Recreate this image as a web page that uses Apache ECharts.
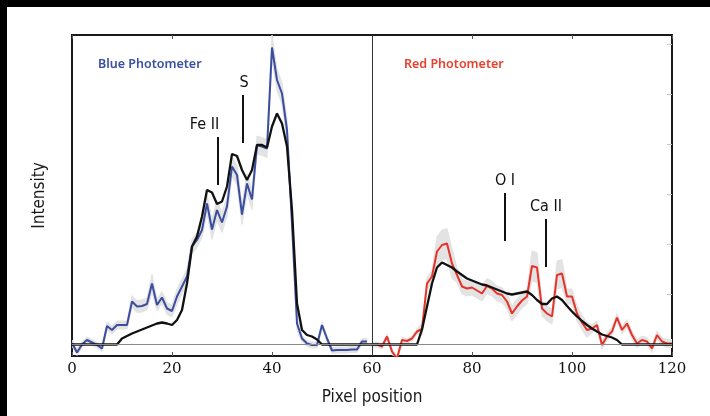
<!DOCTYPE html>
<html>
<head>
<meta charset="utf-8">
<script src="https://cdn.jsdelivr.net/npm/echarts@6/dist/echarts.min.js"></script>
<style>
  html, body { margin: 0; padding: 0; background: #fff; }
  #chart { width: 710px; height: 416px; }
</style>
</head>
<body>
<div id="chart"></div>
<script>
// Blue photometer: pixel 0..59, observed counts, model and uncertainty half-width
const bluePix = [0,1,2,3,4,5,6,7,8,9,10,11,12,13,14,15,16,17,18,19,20,21,22,23,24,25,26,27,28,29,30,31,32,33,34,35,36,37,38,39,40,41,42,43,44,45,46,47,48,49,50,51,52,53,54,55,56,57,58,59];
const blueObs = [0.03,-0.16,0.0,0.09,0.04,-0.01,-0.08,0.37,0.29,0.39,0.39,0.39,0.86,0.76,0.77,0.81,1.22,0.79,0.94,0.72,0.67,0.96,1.16,1.36,1.96,2.09,2.29,2.82,2.30,2.69,2.44,2.76,3.56,3.39,2.60,3.22,2.90,3.99,3.96,3.92,5.94,5.29,5.02,4.29,2.42,0.42,0.12,0.02,-0.01,-0.01,0.39,0.12,-0.12,-0.11,-0.11,-0.11,-0.10,-0.10,0.06,0.06];
const blueErr = [0.06,0.06,0.06,0.06,0.06,0.06,0.06,0.08,0.08,0.08,0.08,0.08,0.12,0.12,0.12,0.12,0.18,0.12,0.12,0.12,0.12,0.15,0.15,0.15,0.15,0.15,0.15,0.2,0.2,0.2,0.2,0.2,0.2,0.2,0.2,0.2,0.2,0.18,0.18,0.18,0.25,0.22,0.22,0.22,0.15,0.15,0.06,0.06,0.06,0.06,0.06,0.06,0.06,0.06,0.06,0.06,0.06,0.06,0.06,0.06];
const blueModelPix = [0,1,2,3,4,5,6,7,8,9,10,11,12,13,14,15,16,17,18,19,20,21,22,23,24,25,26,27,28,29,30,31,32,33,34,35,36,37,38,39,40,41,42,43,44,45,46,47,48,49,50,51,52,53,54,55,56,57,58,59,60];
const blueModel = [0,0,0,0,0,0,0,0,0,0,0.12,0.17,0.22,0.26,0.30,0.34,0.38,0.42,0.44,0.42,0.39,0.49,0.69,1.22,1.96,2.16,2.56,3.09,3.04,2.81,2.86,3.16,3.81,3.77,3.49,3.29,3.49,3.99,3.99,3.94,4.36,4.62,4.42,3.96,2.69,0.82,0.29,0.19,0.16,0.10,0,0,0,0,0,0,0,0,0,0,0];

// Red photometer: pixel 60..120
const redPix = [60,61,62,63,64,65,66,67,68,69,70,71,72,73,74,75,76,77,78,79,80,81,82,83,84,85,86,87,88,89,90,91,92,93,94,95,96,97,98,99,100,101,102,103,104,105,106,107,108,109,110,111,112,113,114,115,116,117,118,119,120];
const redObs = [0.0,0.0,-0.04,0.16,-0.14,-0.28,0.09,0.07,0.12,0.26,0.31,1.22,1.36,1.86,1.99,2.02,1.62,1.39,1.16,1.12,1.14,1.08,1.02,1.17,1.12,1.02,0.99,0.86,0.62,0.76,0.88,0.96,1.57,1.54,0.72,0.62,0.56,1.39,1.42,0.96,0.96,0.62,0.44,0.29,0.32,0.39,-0.01,0.16,0.26,0.54,0.29,0.42,0.19,0.02,0.09,0.06,-0.08,0.19,0.06,0.02,0.02];
const redErr = [0.05,0.05,0.05,0.05,0.05,0.05,0.05,0.05,0.05,0.05,0.12,0.12,0.12,0.3,0.3,0.3,0.3,0.15,0.15,0.15,0.15,0.15,0.15,0.15,0.15,0.15,0.15,0.15,0.15,0.15,0.15,0.15,0.3,0.3,0.15,0.15,0.15,0.28,0.28,0.15,0.15,0.15,0.15,0.15,0.08,0.08,0.08,0.08,0.08,0.08,0.08,0.08,0.08,0.08,0.08,0.08,0.08,0.08,0.08,0.08,0.08];
const redModel = [0,0,0,0,0,0,0,0,0,0,0.3,0.76,1.22,1.54,1.64,1.59,1.54,1.46,1.39,1.32,1.28,1.24,1.20,1.18,1.14,1.10,1.06,1.02,1.00,1.02,1.04,1.06,0.99,0.89,0.81,0.81,0.92,0.96,0.89,0.77,0.66,0.56,0.47,0.39,0.32,0.26,0.20,0.17,0.14,0.09,0,0,0,0,0,0,0,0,0,0,0];

// Emission line markers: label, pixel, bottom and top of the tick, label nudge
const lineNames = ['Fe II', 'S', 'O I', 'Ca II'];
const linePix = [29.1, 34.2, 86.6, 94.8];
const lineLow = [3.19, 4.03, 2.07, 1.55];
const lineHigh = [4.15, 4.99, 3.03, 2.51];
const lineLabelShift = [-13, 1, 0, 0];

const xTicks = [0, 20, 40, 60, 80, 100, 120];
const yTicks = [0, 1, 2, 3, 4, 5, 6];
const panelSplit = 60;

const narrow = "'Liberation Sans Narrow', 'DejaVu Sans Condensed', sans-serif";
const pairs = (xs, ys) => xs.map((x, i) => [x, ys[i]]);
const bandRows = (xs, ys, es) => xs.map((x, i) => [x, ys[i] - es[i], ys[i] + es[i]]);

// Uncertainty envelope drawn as one polygon through the axis scales
function band(name, xs, ys, es) {
  const rows = bandRows(xs, ys, es);
  return {
    name: name, type: 'custom', data: rows, silent: true, z: 1, clip: true,
    encode: { x: 0, y: [1, 2] },
    renderItem: function (params, api) {
      if (params.dataIndex !== 0) return null;
      const top = rows.map(r => api.coord([r[0], r[2]]));
      const bottom = rows.map(r => api.coord([r[0], r[1]])).reverse();
      return {
        type: 'polygon',
        shape: { points: top.concat(bottom) },
        style: { fill: '#e3e3e3', stroke: '#e3e3e3', lineWidth: 1 }
      };
    }
  };
}

const chart = echarts.init(document.getElementById('chart'), null, { renderer: 'canvas' });

const option = {
  animation: false,
  backgroundColor: '#ffffff',
  graphic: [
    { type: 'rect', shape: { x: 0, y: 0, width: 710, height: 7 }, style: { fill: '#000' }, z: 100 },
    { type: 'rect', shape: { x: 0, y: 0, width: 7, height: 416 }, style: { fill: '#000' }, z: 100 }
  ],
  title: [
    { text: 'Blue Photometer', left: 98, top: 58, padding: 0,
      textStyle: { color: '#3b50a2', fontSize: 12.5, fontWeight: 600, fontFamily: 'Noto Sans' } },
    { text: 'Red Photometer', left: 404, top: 58, padding: 0,
      textStyle: { color: '#e8402c', fontSize: 12.5, fontWeight: 600, fontFamily: 'Noto Sans' } }
  ],
  grid: { left: 72, right: 38, top: 35, bottom: 60, show: true, borderColor: '#1a1a1a', borderWidth: 2, backgroundColor: '#fff' },
  xAxis: [
    { type: 'value', min: 0, max: 120, interval: 20, position: 'bottom',
      name: 'Pixel position', nameLocation: 'middle', nameGap: 33,
      nameTextStyle: { fontFamily: narrow, fontSize: 17, color: '#1a1a1a' },
      axisLine: { show: false, onZero: false }, splitLine: { show: false },
      axisTick: { show: true, inside: true, length: 4, lineStyle: { color: '#555', width: 1 } },
      axisLabel: { fontFamily: 'DejaVu Serif', fontSize: 15, color: '#111', margin: 6, customValues: xTicks } },
    { type: 'value', min: 0, max: 120, interval: 20, position: 'top',
      axisLine: { show: false, onZero: false }, splitLine: { show: false }, axisLabel: { show: false },
      axisTick: { show: true, inside: true, length: 4, lineStyle: { color: '#555', width: 1 } } }
  ],
  yAxis: [
    { type: 'value', gridIndex: 0, min: -0.23, max: 6.19, position: 'left', offset: 0,
      name: 'Intensity', nameLocation: 'middle', nameGap: 24,
      nameTextStyle: { fontFamily: narrow, fontSize: 17, color: '#1a1a1a' },
      axisLine: { show: false, onZero: false }, axisTick: { show: false }, axisLabel: { show: false }, splitLine: { show: false } },
    { type: 'value', gridIndex: 0, min: -0.23, max: 6.19, position: 'right', offset: 0,
      axisLine: { show: false, onZero: false }, axisLabel: { show: false }, splitLine: { show: false },
      axisTick: { show: true, inside: true, length: 5, customValues: yTicks, lineStyle: { color: '#c4c4c4', width: 1 } } }
  ],
  series: [
    band('blueBand', bluePix, blueObs, blueErr),
    band('redBand', redPix, redObs, redErr),
    { name: 'guides', type: 'line', data: [], z: 2,
      markLine: { silent: true, symbol: 'none', animation: false, label: { show: false },
        data: [
          { xAxis: panelSplit, lineStyle: { color: '#333', width: 1, type: 'solid' } },
          { yAxis: 0, lineStyle: { color: '#8a8a8a', width: 1, type: 'solid' } }
        ] } },
    { name: 'Blue Photometer', type: 'line', data: pairs(bluePix, blueObs), symbol: 'none',
      lineStyle: { color: '#3a4d9f', width: 2 }, z: 3 },
    { name: 'Red Photometer', type: 'line', data: pairs(redPix, redObs), symbol: 'none',
      lineStyle: { color: '#e6332a', width: 2 }, z: 3 },
    { name: 'Blue model', type: 'line', data: pairs(blueModelPix, blueModel), symbol: 'none',
      lineStyle: { color: '#111', width: 2.3 }, z: 4 },
    { name: 'Red model', type: 'line', data: pairs(redPix, redModel), symbol: 'none',
      lineStyle: { color: '#111', width: 2.3 }, z: 4 },
    { name: 'lines', type: 'line', data: [], z: 5,
      markLine: { silent: true, symbol: 'none', animation: false,
        lineStyle: { color: '#111', width: 2, type: 'solid' },
        label: { show: true, position: 'end', distance: 4, formatter: '{b}',
          fontFamily: narrow, fontSize: 16, color: '#111' },
        data: lineNames.map((n, i) => [
          { name: n, coord: [linePix[i], lineLow[i]], label: { offset: [lineLabelShift[i], 0] } },
          { coord: [linePix[i], lineHigh[i]] }
        ]) } }
  ]
};

chart.setOption(option);
</script>
</body>
</html>
